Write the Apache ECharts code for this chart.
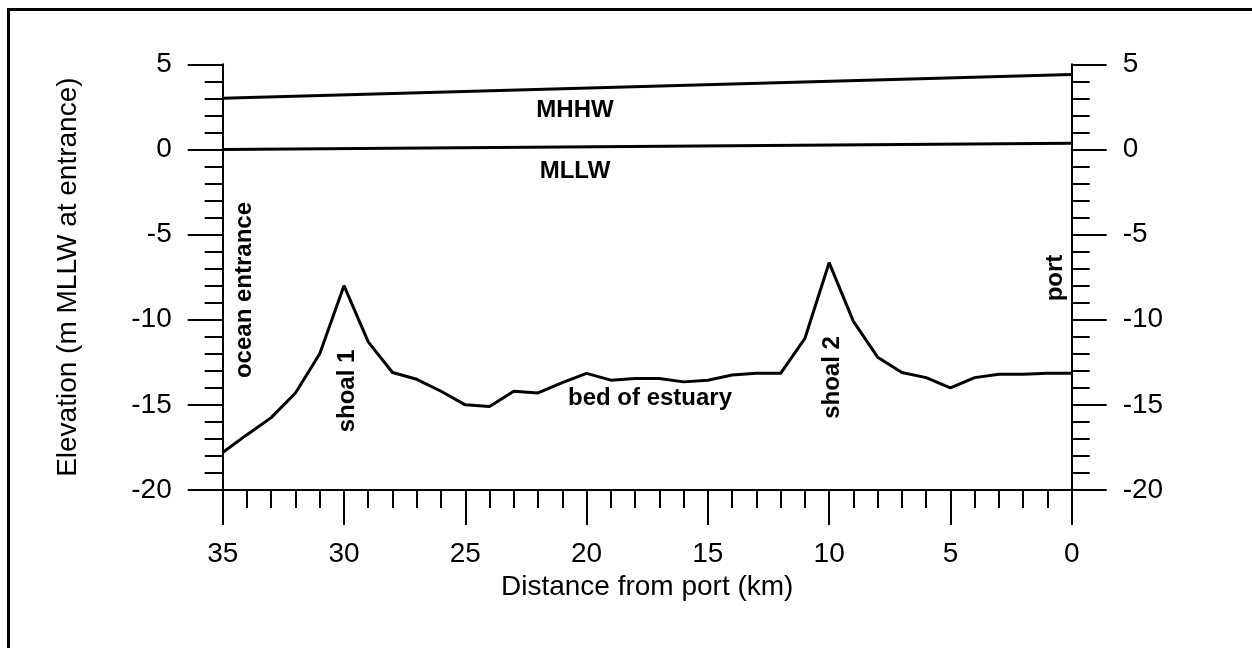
<!DOCTYPE html>
<html>
<head>
<meta charset="utf-8">
<script src="https://cdn.jsdelivr.net/npm/echarts@6/dist/echarts.min.js"></script>
<style>
html,body{margin:0;padding:0;background:#fff;}
#chart{width:1252px;height:648px;}
</style>
</head>
<body>
<div id="chart"></div>
<script>
// Distance from port (km)
var distanceKm = [35,34,33,32,31,30,29,28,27,26,25,24,23,22,21,20,19,18,17,16,15,14,13,12,11,10,9,8,7,6,5,4,3,2,1,0];
// Bed of estuary elevation (m MLLW at entrance)
var bedElevation = [-17.8,-16.75,-15.75,-14.3,-12.0,-8.0,-11.3,-13.1,-13.5,-14.2,-15.0,-15.1,-14.2,-14.3,-13.7,-13.15,-13.55,-13.45,-13.45,-13.65,-13.55,-13.25,-13.15,-13.15,-11.1,-6.65,-10.1,-12.2,-13.1,-13.4,-14.0,-13.4,-13.2,-13.2,-13.15,-13.15];
// Tidal datum lines
var datumKm = [35, 0];
var mhhwElevation = [3.0, 4.4];
var mllwElevation = [0.0, 0.37];
// Axis ticks
var xTicks = [35,30,25,20,15,10,5,0];
var yTicks = [5,0,-5,-10,-15,-20];

var FONT = "'Liberation Sans', Arial, Helvetica, sans-serif";

function pairs(xs, ys){ return xs.map(function(x,i){ return [x, ys[i]]; }); }

var chart = echarts.init(document.getElementById('chart'), null, {renderer:'canvas'});

var tickStyle = {color:'#000', width:2};
function yAxisCfg(pos){
  return {
    type:'value', position:pos, min:-20, max:5, interval:5,
    axisLine:{show:true, onZero:false, lineStyle:{color:'#000', width:2}},
    axisTick:{show:true, inside:false, length:35, lineStyle:tickStyle},
    minorTick:{show:true, splitNumber:5, length:18, lineStyle:tickStyle},
    splitLine:{show:false},
    axisLabel:{show:true, margin:51, color:'#000', fontSize:28, fontFamily:FONT},
    name: pos==='left' ? 'Elevation (m MLLW at entrance)' : '',
    nameLocation:'middle', nameGap:140,
    nameTextStyle:{color:'#000', fontSize:28, fontFamily:FONT}
  };
}

var option = {
  backgroundColor:'#fff',
  animation:false,
  grid:{left:222.7, right:180.3, top:64.3, bottom:158, containLabel:false},
  xAxis:{
    type:'value', inverse:true, min:0, max:35, interval:5,
    axisLine:{show:true, onZero:false, lineStyle:{color:'#000', width:2}},
    axisTick:{show:true, inside:false, length:35, lineStyle:tickStyle},
    minorTick:{show:true, splitNumber:5, length:18, lineStyle:tickStyle},
    splitLine:{show:false},
    axisLabel:{show:true, margin:50, color:'#000', fontSize:28, fontFamily:FONT},
    name:'Distance from port (km)', nameLocation:'middle', nameGap:82,
    nameTextStyle:{color:'#000', fontSize:28, fontFamily:FONT}
  },
  yAxis:[yAxisCfg('left'), yAxisCfg('right')],
  series:[
    {type:'line', name:'bed', data:pairs(distanceKm, bedElevation), symbol:'none',
     lineStyle:{color:'#000', width:3}, yAxisIndex:0},
    {type:'line', name:'MHHW', data:pairs(datumKm, mhhwElevation), symbol:'none',
     lineStyle:{color:'#000', width:3}, yAxisIndex:0},
    {type:'line', name:'MLLW', data:pairs(datumKm, mllwElevation), symbol:'none',
     lineStyle:{color:'#000', width:3}, yAxisIndex:0}
  ],
  graphic:[
    {type:'rect', silent:true, shape:{x:8.5, y:9.5, width:1400, height:800},
     style:{fill:'none', stroke:'#000', lineWidth:3}},
    {type:'text', x:575, y:110, style:{text:'MHHW', fill:'#000', font:'bold 24px '+FONT, align:'center', verticalAlign:'middle'}},
    {type:'text', x:575, y:171, style:{text:'MLLW', fill:'#000', font:'bold 24px '+FONT, align:'center', verticalAlign:'middle'}},
    {type:'text', x:650, y:398, style:{text:'bed of estuary', fill:'#000', font:'bold 24px '+FONT, align:'center', verticalAlign:'middle'}},
    {type:'text', x:244.5, y:290, rotation:Math.PI/2, style:{text:'ocean entrance', fill:'#000', font:'bold 24px '+FONT, align:'center', verticalAlign:'middle'}},
    {type:'text', x:347, y:391, rotation:Math.PI/2, style:{text:'shoal 1', fill:'#000', font:'bold 24px '+FONT, align:'center', verticalAlign:'middle'}},
    {type:'text', x:832.5, y:377.5, rotation:Math.PI/2, style:{text:'shoal 2', fill:'#000', font:'bold 24px '+FONT, align:'center', verticalAlign:'middle'}},
    {type:'text', x:1055, y:278, rotation:Math.PI/2, style:{text:'port', fill:'#000', font:'bold 24px '+FONT, align:'center', verticalAlign:'middle'}}
  ]
};
chart.setOption(option);
</script>
</body>
</html>
